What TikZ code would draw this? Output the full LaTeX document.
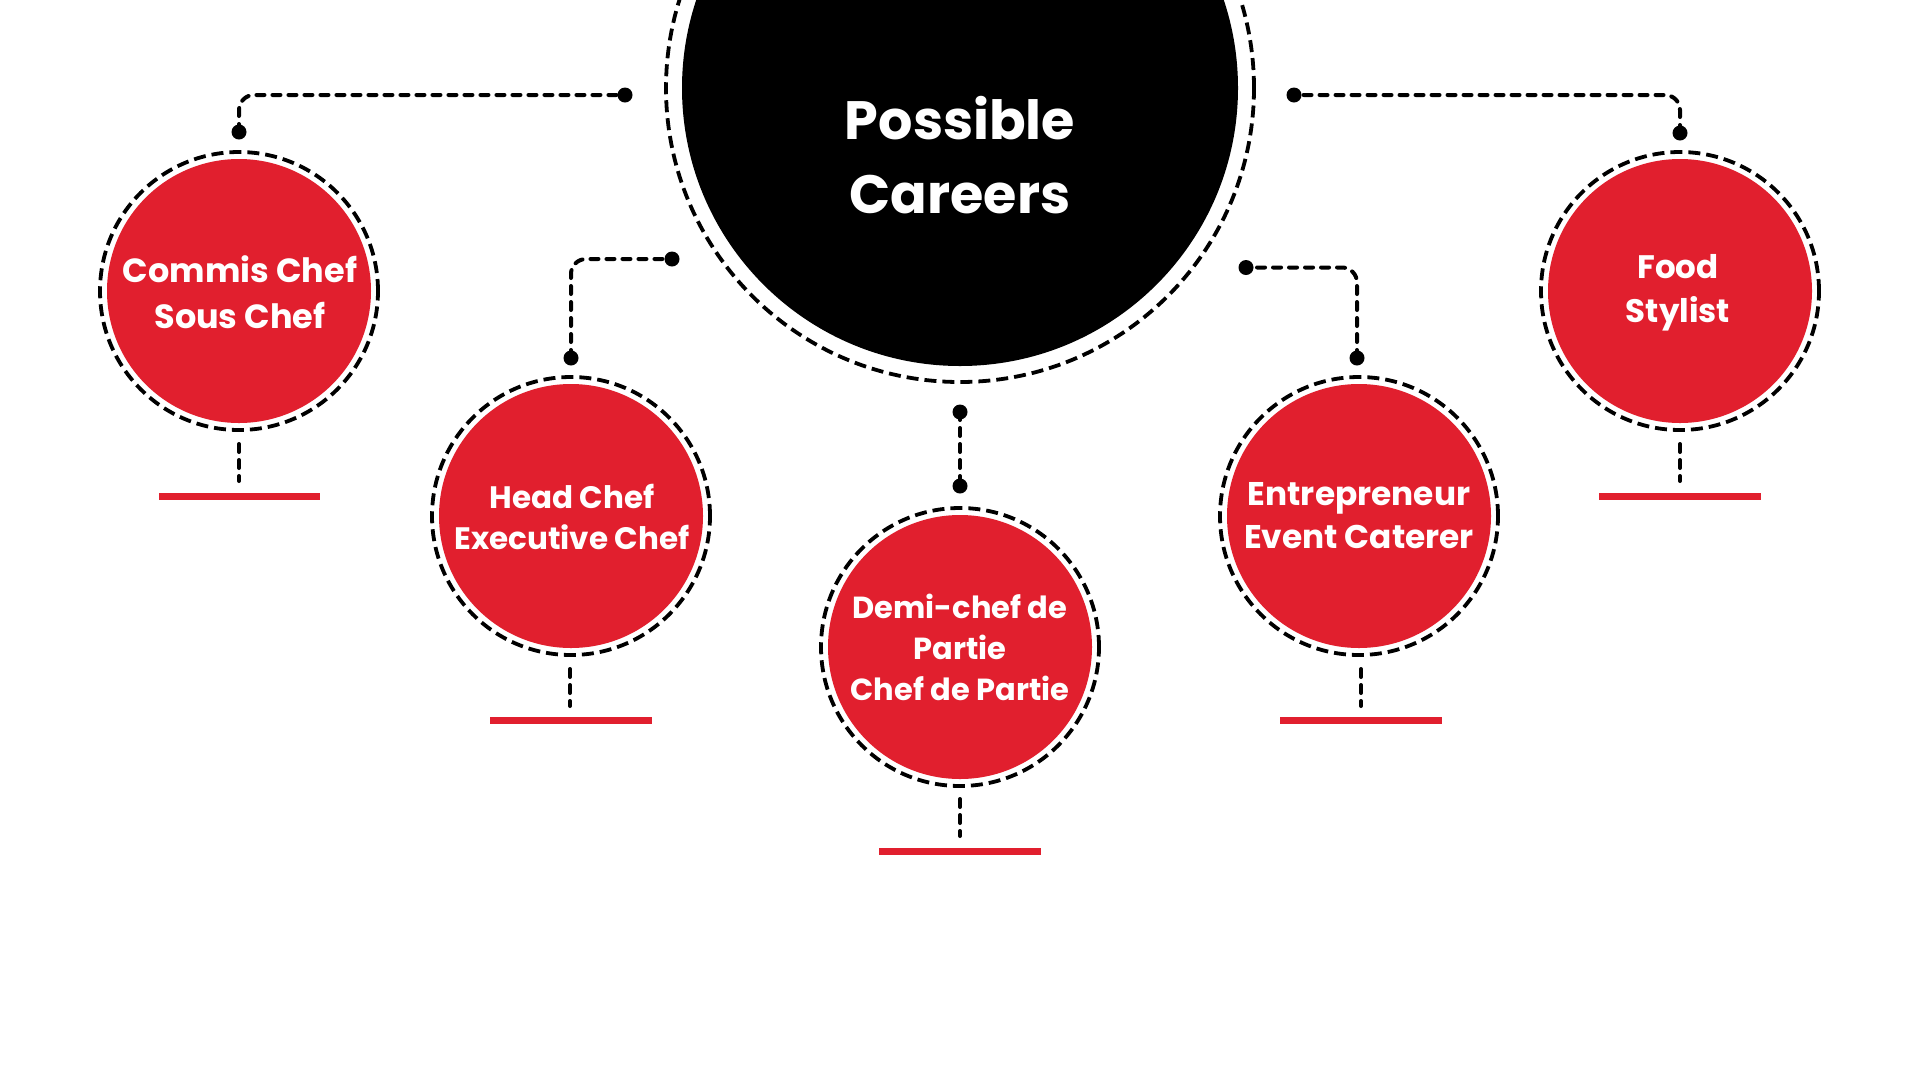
\documentclass[tikz,border=0pt]{standalone}
\usepackage{fontspec}
\setmainfont{Poppins}
\definecolor{cred}{HTML}{E11F2E}
\begin{document}
\begin{tikzpicture}[x=1pt,y=-1pt,
  redball/.style={circle, fill=cred, minimum size=264pt, inner sep=0pt},
  label/.style={text=white, align=center, inner sep=0pt, font=\bfseries\fontsize{31}{43}\selectfont},
  ring/.style={draw=black, line width=3.8pt, dash pattern=on 12pt off 6pt},
  conn/.style={draw=black, line width=4pt, line cap=round, dash pattern=on 8pt off 8pt, rounded corners=15pt},
  bar/.style={draw=cred, line width=7pt},
  dotr/.style={fill=black}
]
\useasboundingbox (0,0) rectangle (1920,1080);
\clip (0,0) rectangle (1920,1080);
\fill[white] (0,0) rectangle (1920,1080);

% main circle
\node[circle, fill=black, minimum size=556pt, inner sep=0pt] (main) at (960,88) {};
\draw[ring] (main.center) circle (294pt);
\node[text=white, align=center, inner sep=0pt, font=\bfseries\fontsize{54}{74}\selectfont] (maint) at (960,155) {Possible\\Careers};

% career circles
\node[redball] (c1) at (239,291) {};
\node[redball] (c2) at (571,516) {};
\node[redball] (c3) at (960,647) {};
\node[redball] (c4) at (1359,516) {};
\node[redball] (c5) at (1680,291) {};
\foreach \n in {c1,c2,c3,c4,c5} \draw[ring] (\n.center) circle (139pt);

\node[label, font=\bfseries\fontsize{33.5}{46}\selectfont] (t1) at (240,292) {Commis Chef\\Sous Chef};
\node[label, font=\bfseries\fontsize{31}{41.5}\selectfont] (t2) at (572,517) {Head Chef\\Executive Chef};
\node[label, font=\bfseries\fontsize{30.5}{41}\selectfont] (t3) at (960,647) {Demi-chef de\\Partie\\Chef de Partie};
\node[label, font=\bfseries\fontsize{32.8}{43}\selectfont] (t4) at (1359,516) {Entrepreneur\\Event Caterer};
\node[label, font=\bfseries\fontsize{32.5}{44}\selectfont] (t5) at (1678,293) {Food\\Stylist};

% connector points
\coordinate (d1a) at (239,132);  \coordinate (d1b) at (625,95);
\coordinate (d2a) at (571,358);  \coordinate (d2b) at (672,259);
\coordinate (d3a) at (960,412);  \coordinate (d3b) at (960,486);
\coordinate (d4a) at (1357,358); \coordinate (d4b) at (1246,267.5);
\coordinate (d5a) at (1680,133); \coordinate (d5b) at (1294,95);

\draw[conn] (d1a) |- (d1b);
\draw[conn] (d2a) |- (d2b);
\draw[conn] (d3a) -- (d3b);
\draw[conn] (d4a) |- (d4b);
\draw[conn] (d5a) |- (d5b);
\foreach \p in {d1a,d1b,d2a,d2b,d3a,d3b,d4a,d4b,d5a,d5b} \fill[dotr] (\p) circle (7.5pt);

% stems and bars
\coordinate (s1a) at (239,444);  \coordinate (s1b) at (239,481);
\coordinate (s2a) at (570,669);  \coordinate (s2b) at (570,706);
\coordinate (s3a) at (960,799);  \coordinate (s3b) at (960,836);
\coordinate (s4a) at (1361,669); \coordinate (s4b) at (1361,706);
\coordinate (s5a) at (1680,444); \coordinate (s5b) at (1680,481);
\foreach \i in {1,...,5} \draw[conn] (s\i a) -- (s\i b);

\coordinate (b1a) at (159,496);   \coordinate (b1b) at (320,496);
\coordinate (b2a) at (490,720.5); \coordinate (b2b) at (652,720.5);
\coordinate (b3a) at (879,851.5); \coordinate (b3b) at (1041,851.5);
\coordinate (b4a) at (1280,720.8);\coordinate (b4b) at (1442,720.8);
\coordinate (b5a) at (1599,496);  \coordinate (b5b) at (1761,496);
\foreach \i in {1,...,5} \draw[bar] (b\i a) -- (b\i b);
\end{tikzpicture}
\end{document}
